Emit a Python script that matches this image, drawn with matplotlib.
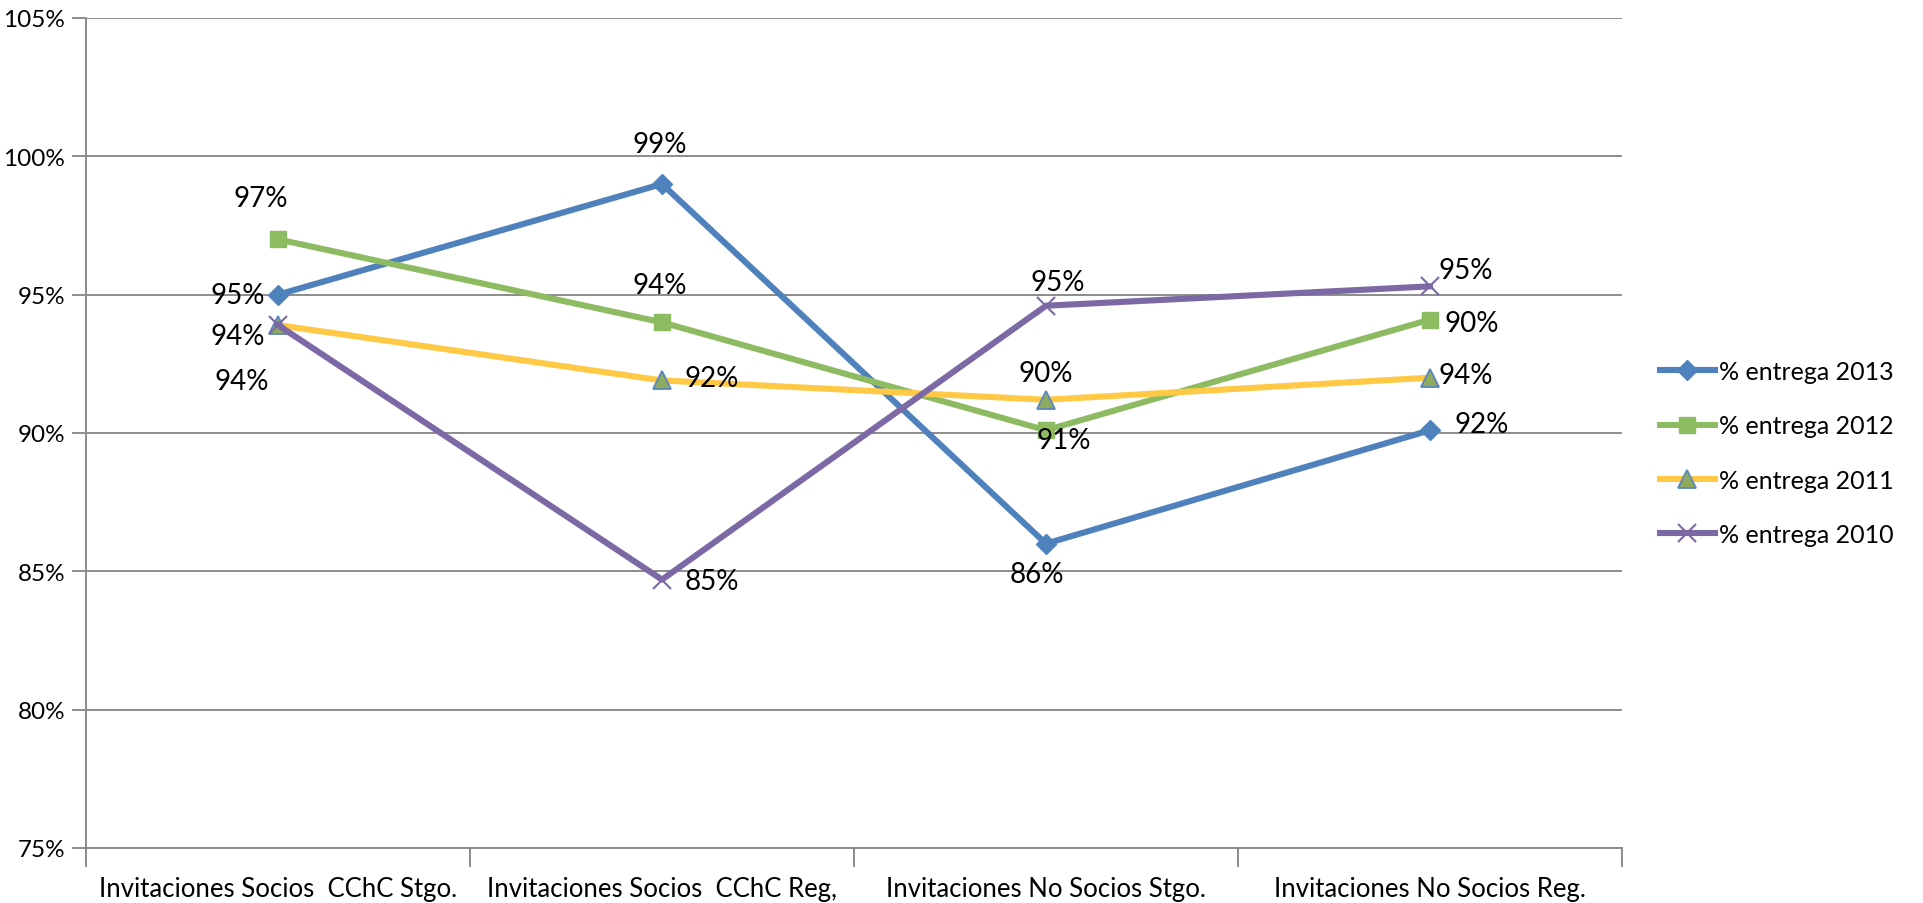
import numpy as np
import matplotlib
matplotlib.use('Agg')
from matplotlib import pyplot as plt

plt.rcParams['font.family'] = ['Lato', 'DejaVu Sans']

categories = ['Invitaciones Socios  CChC Stgo.', 'Invitaciones Socios  CChC Reg,',
              'Invitaciones No Socios Stgo.', 'Invitaciones No Socios Reg.']

entrega_2013 = [95.0, 99.0, 86.0, 90.1]
entrega_2012 = [97.0, 94.0, 90.1, 94.1]
entrega_2011 = [93.9, 91.9, 91.2, 92.0]
entrega_2010 = [93.9, 84.7, 94.6, 95.3]

labels_2013 = ['95%', '99%', '86%', '92%']
labels_2012 = ['97%', '94%', '91%', '90%']
labels_2011 = ['94%', '92%', '90%', '94%']
labels_2010 = ['94%', '85%', '95%', '95%']

series_names = ['% entrega 2013', '% entrega 2012', '% entrega 2011', '% entrega 2010']

# label offsets (pixels, dx right / dy down) for each series and point
offs_2013 = [(-40, 0), (-2, -40), (-9, 30), (52, -6)]
offs_2012 = [(-17, -41), (-2, -37), (18, 10), (42, 3)]
offs_2011 = [(-40, 11), (50, -2), (0, -27), (36, -3)]
offs_2010 = [(-36, 56), (50, 1), (12, -24), (36, -16)]

fig = plt.figure(figsize=(19.24, 9.04), dpi=100)
ax = fig.add_axes([86/1924, 1-849/904, (1622-86)/1924, (849-19)/904])

x = np.arange(len(categories))
blue = '#4F81BD'
green = '#8DBB62'
yellow = '#FFC845'
purple = '#7D68A6'

ax.plot(x, entrega_2013, color=blue, lw=4.4, marker='D', ms=10, mfc=blue, mec=blue, label=series_names[0], zorder=3)
ax.plot(x, entrega_2012, color=green, lw=4.4, marker='s', ms=12, mfc=green, mec=green, label=series_names[1], zorder=3)
ax.plot(x, entrega_2011, color=yellow, lw=4.4, marker='^', ms=13, mfc='#8DAA5E', mec='#5B86C0', mew=1.3, label=series_names[2], zorder=3)
ax.plot(x, entrega_2010, color=purple, lw=4.4, marker='x', ms=13, mec=purple, mew=1.5, label=series_names[3], zorder=3)

all_vals = [entrega_2013, entrega_2012, entrega_2011, entrega_2010]
all_labs = [labels_2013, labels_2012, labels_2011, labels_2010]
all_offs = [offs_2013, offs_2012, offs_2011, offs_2010]
for vals, labs, offs in zip(all_vals, all_labs, all_offs):
    for i in range(len(vals)):
        dx, dy = offs[i]
        ax.annotate(labs[i], (x[i], vals[i]), xytext=(dx*0.72, -dy*0.72), textcoords='offset points',
                    ha='center', va='center', fontsize=20, color='black', zorder=5)

ax.set_xlim(-0.5, 3.5)
ax.set_ylim(75, 105)
ax.set_yticks(np.arange(75, 106, 5))
ax.set_yticklabels(['%d%%' % v for v in range(75, 106, 5)], fontsize=17.5)
ax.yaxis.grid(True, color='#8C8C8C', lw=1.4)
ax.set_axisbelow(True)

ax.set_xticks(np.arange(-0.5, 4, 1))
ax.set_xticklabels([])
ax.set_xticks(x, minor=True)
ax.set_xticklabels(categories, minor=True, fontsize=18.5)
ax.tick_params(axis='x', which='minor', length=0, pad=20)
ax.tick_params(axis='x', which='major', length=14, color='#8C8C8C', width=1.4, direction='out')
ax.tick_params(axis='y', length=10, color='#8C8C8C', width=1.4, pad=5)

for s in ['top', 'right']:
    ax.spines[s].set_visible(False)
for s in ['left', 'bottom']:
    ax.spines[s].set_color('#8C8C8C')
    ax.spines[s].set_linewidth(1.4)

ax.legend(loc='center left', bbox_to_anchor=(1.01, 0.476), frameon=False, fontsize=18,
          handlelength=2.2, handletextpad=0.15, labelspacing=1.25)

fig.savefig('out.png', dpi=100)
